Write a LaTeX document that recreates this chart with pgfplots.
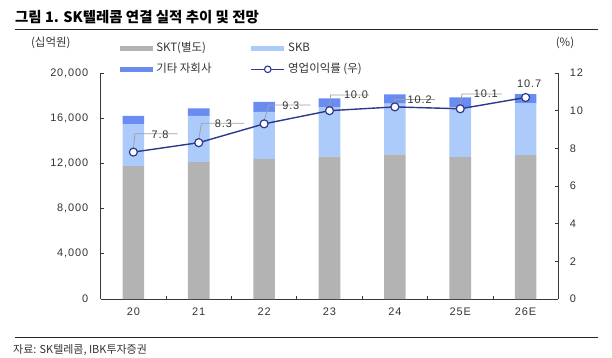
\documentclass[border=0pt]{standalone}
\usepackage{pgfplots}
\pgfplotsset{compat=1.18}
\usepackage{pgfplotstable}
\usepackage{fontspec}
\setmainfont{Liberation Sans}
\newfontfamily\kr{Noto Sans CJK KR}
\newfontfamily\numf[LetterSpace=8]{Liberation Sans}
\definecolor{cskt}{HTML}{B3B3B3}
\definecolor{cskb}{HTML}{ADCBFA}
\definecolor{coth}{HTML}{6A8BEF}
\definecolor{cline}{HTML}{2B3990}
\definecolor{caxis}{HTML}{383838}
\definecolor{ctext}{HTML}{333333}
\definecolor{clead}{HTML}{A0A0A0}

\pgfplotstableread{
x skt skb oth
0 11760 3710 740
1 12110 4100 650
2 12410 4150 890
3 12590 4390 770
4 12800 4490 810
5 12560 4390 890
6 12740 4590 800
}\bars
\pgfplotstableread{
x opm
0 7.8
1 8.3
2 9.3
3 10.0
4 10.2
5 10.1
6 10.7
}\margin

\begin{document}
\begin{tikzpicture}[x=1bp,y=1bp]
\useasboundingbox (-100.7,-58) rectangle (511.3,299);
\begin{scope}[shift={(-100.7,-58)}]
% title and rules
\node[anchor=west, font=\kr\bfseries\fontsize{14.5}{16}\selectfont, text=black, inner sep=0] at (15,340.3) {그림 1. SK텔레콤 연결 실적 추이 및 전망};
\draw[line width=1bp, black!85] (15,327.7) -- (598,327.7);
\draw[line width=1bp, black!85] (15,19.3) -- (598,19.3);
\node[anchor=west, font=\kr\fontsize{11}{13}\selectfont, text=ctext, inner sep=0] at (13,7) {자료: SK텔레콤, IBK투자증권};
\node[font=\kr\fontsize{11.5}{13}\selectfont, text=ctext, inner sep=0] at (50.8,313.7) {(십억원)};
\node[font=\kr\fontsize{11.5}{13}\selectfont, text=ctext, inner sep=0] at (565,313.7) {(\%)};
\end{scope}

\begin{axis}[
  width=457.6bp, height=226bp, scale only axis,
  xmin=-0.5, xmax=6.5, ymin=0, ymax=20000,
  axis x line*=bottom, axis y line*=left,
  axis line style={-, caxis, line width=0.9bp},
  ybar stacked, bar width=21.6bp,
  ytick={0,4000,...,20000},
  scaled y ticks=false,
  /pgf/number format/.cd, 1000 sep={,}, assume math mode=true, /pgfplots/.cd,
  xtick={0.5,1.5,...,5.5}, xticklabels={},
  extra x ticks={0,1,2,3,4,5,6},
  extra x tick labels={20,21,22,23,24,25E,26E},
  extra x tick style={major tick length=0pt},
  tick align=inside, major tick length=3bp,
  tick style={caxis, line width=0.8bp},
  ticklabel style={font=\numf\fontsize{11}{13}\selectfont, text=ctext},
  yticklabel style={xshift=-9bp},
  xticklabel style={yshift=-5bp},
  legend columns=2,
  legend cell align=left,
  legend style={draw=none, fill=none, inner sep=0pt, outer sep=0pt,
    at={(axis description cs:0,1)}, anchor=north west, xshift=19.3bp, yshift=33.35bp,
    row sep=2.5bp,
    nodes={inner sep=3.3bp, text height=9bp, text depth=2.5bp, font=\kr\fontsize{11.5}{13}\selectfont, text=ctext}},
]
\addplot[fill=cskt, draw=none, legend image code/.code={\fill[cskt] (0bp,-2.6bp) rectangle (33bp,2.6bp);}] table[x=x,y=skt]{\bars};
\addlegendentry{\makebox[91bp][l]{SKT(별도)}}
\addplot[fill=cskb, draw=none, legend image code/.code={\fill[cskb] (0bp,-2.6bp) rectangle (33bp,2.6bp);}] table[x=x,y=skb]{\bars};
\addlegendentry{SKB}
\addplot[fill=coth, draw=none, legend image code/.code={\fill[coth] (0bp,-2.6bp) rectangle (33bp,2.6bp);}] table[x=x,y=oth]{\bars};
\addlegendentry{\makebox[91bp][l]{기타 자회사}}
\addlegendimage{legend image code/.code={\draw[sharp plot, cline, line width=1.3bp, mark=*, mark size=3.3bp, mark options={fill=white, draw=cline, line width=1.1bp}, mark repeat=2, mark phase=2] plot coordinates {(0bp,0bp) (16.5bp,0bp) (33bp,0bp)};}}
\addlegendentry{영업이익률 (우)}
\end{axis}

\begin{axis}[
  width=457.6bp, height=226bp, scale only axis,
  xmin=-0.5, xmax=6.5, ymin=0, ymax=12,
  axis y line*=right, axis x line=none,
  axis line style={-, caxis, line width=0.9bp},
  ytick={0,2,...,12},
  tick align=inside, major tick length=3bp,
  tick style={caxis, line width=0.8bp},
  /pgf/number format/assume math mode=true,
  ticklabel style={font=\numf\fontsize{11}{13}\selectfont, text=ctext},
  yticklabel style={xshift=8bp},
  clip=false,
]
% leader lines
\draw[clead, line width=0.8bp] (axis cs:0,7.8) ++(0bp,3bp) -- ++(1.5bp,15.4bp) -- ++(10bp,0);
\draw[clead, line width=0.8bp] (axis cs:1,8.3) ++(0bp,3bp) -- ++(2.7bp,16.4bp) -- ++(10bp,0);
\draw[clead, line width=0.8bp] (axis cs:2,9.3) ++(0bp,3bp) -- ++(4.7bp,15.9bp) -- ++(9bp,0);
\draw[clead, line width=0.8bp] (axis cs:3,10.0) ++(0bp,3bp) -- ++(1bp,12.7bp) -- ++(6bp,0);
\draw[clead, line width=0.8bp] (axis cs:4,10.2) ++(0bp,3bp) -- ++(0bp,4.6bp) -- ++(7bp,0);
\draw[clead, line width=0.8bp] (axis cs:5,10.1) ++(0bp,3bp) -- ++(1.7bp,11.8bp) -- ++(7.3bp,0);
\addplot[cline, line width=1.4bp, mark=*, mark size=4bp, mark options={fill=white, draw=cline, line width=1.2bp}] table[x=x,y=opm]{\margin};
% value labels
\path[font=\numf\fontsize{11}{13}\selectfont, text=ctext]
  (axis cs:0,7.8) ++(18bp,17.7bp) node[anchor=west, inner sep=0]{7.8}
  (axis cs:1,8.3) ++(16bp,18.7bp) node[anchor=west, inner sep=0]{8.3}
  (axis cs:2,9.3) ++(18bp,18bp) node[anchor=west, inner sep=0]{9.3}
  (axis cs:3,10.0) ++(14.3bp,15.7bp) node[anchor=west, inner sep=0]{10.0}
  (axis cs:4,10.2) ++(12.6bp,7.3bp) node[anchor=west, inner sep=0]{10.2}
  (axis cs:5,10.1) ++(13.4bp,14.8bp) node[anchor=west, inner sep=0]{10.1}
  (axis cs:6,10.7) ++(3.5bp,14bp) node[inner sep=0]{10.7};
\end{axis}
\end{tikzpicture}
\end{document}
